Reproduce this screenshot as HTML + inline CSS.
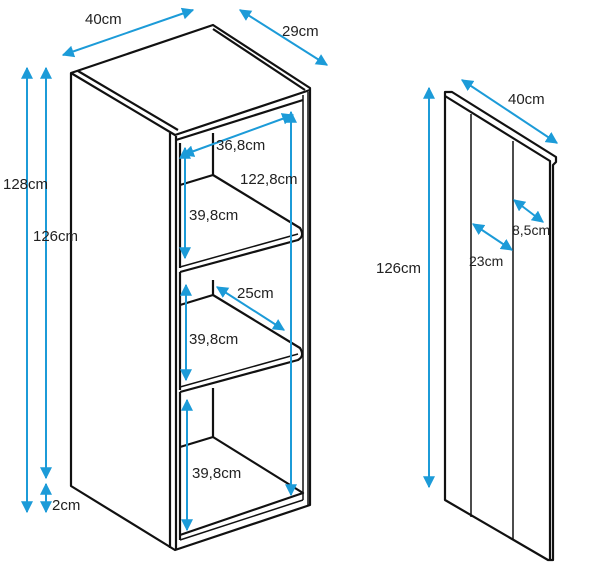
<!DOCTYPE html>
<html><head><meta charset="utf-8"><style>
html,body{margin:0;padding:0;background:#fff;}
svg{display:block;}
text{font-family:"Liberation Sans",sans-serif;font-size:15px;fill:#222;}
</style></head><body>
<svg width="600" height="570" viewBox="0 0 600 570" xmlns="http://www.w3.org/2000/svg">
<defs>
<marker id="a" viewBox="0 0 10 10" refX="9" refY="5" markerWidth="6" markerHeight="6" orient="auto-start-reverse"><path d="M0,0L10,5L0,10z" fill="#1c9bd8"/></marker>
</defs>
<g fill="none" stroke="#111" stroke-width="2.2" stroke-linejoin="round">
<path d="M71,73 L213,25 L310,88 L310,505 L175,550 L71,486 Z"/>
<path d="M71,73 L175,135 L310,90" />
<path d="M78,71 L178,130 M213,29 L305,90"/>
<path d="M170,133 L170,548 M176,136 L176,549"/>
<path d="M303,95 L303,500 M308,92 L308,505" stroke-width="1.5"/>
<path d="M176,140 L303,100"/>
<path d="M180,143 L180,268"/>
<path d="M213,133 L213,175 L180,185"/>
<path d="M213,175 L300,228 Q305,236 298,240 L180,272"/>
<path d="M180,267 L298,234" stroke-width="1.5"/>
<path d="M180,272 L180,390"/>
<path d="M213,280 L213,295 L180,305"/>
<path d="M213,295 L300,348 Q305,356 298,360 L180,392"/>
<path d="M180,387 L298,354" stroke-width="1.5"/>
<path d="M180,392 L180,540"/>
<path d="M213,388 L213,437 L180,447"/>
<path d="M213,437 L303,493 L180,535"/>
<path d="M180,540 L303,500" stroke-width="1.5"/>
<path d="M445,92 L452,92 L556,157 L556,162 L553,165 L553,560 L548,560 L445,500 Z"/>
<path d="M445,96 L550,161 L550,560"/>
<path d="M471,114 L471,517 M513,141 L513,540" stroke-width="1.5"/>
</g>
<g stroke="#1c9bd8" stroke-width="2" fill="none" marker-start="url(#a)" marker-end="url(#a)">
<line x1="63" y1="55" x2="193" y2="10"/>
<line x1="240" y1="10" x2="327" y2="65"/>
<line x1="27" y1="68" x2="27" y2="512"/>
<line x1="46" y1="68" x2="46" y2="478"/>
<line x1="46" y1="484" x2="46" y2="512"/>
<line x1="183" y1="155" x2="293" y2="115"/>
<line x1="291" y1="112" x2="291" y2="495"/>
<line x1="185" y1="148" x2="185" y2="258"/>
<line x1="186" y1="285" x2="186" y2="380"/>
<line x1="187" y1="400" x2="187" y2="530"/>
<line x1="217" y1="287" x2="284" y2="330"/>
<line x1="462" y1="80" x2="557" y2="143"/>
<line x1="429" y1="88" x2="429" y2="487"/>
<line x1="514" y1="200" x2="543" y2="222"/>
<line x1="473" y1="224" x2="512" y2="250"/>
</g>
<text x="85" y="24">40cm</text>
<text x="282" y="36">29cm</text>
<text x="3" y="189">128cm</text>
<text x="33" y="241">126cm</text>
<text x="52" y="510">2cm</text>
<text x="216" y="150">36,8cm</text>
<text x="240" y="184">122,8cm</text>
<text x="189" y="220">39,8cm</text>
<text x="237" y="298">25cm</text>
<text x="189" y="344">39,8cm</text>
<text x="192" y="478">39,8cm</text>
<text x="508" y="104">40cm</text>
<text x="376" y="273">126cm</text>
<text x="512" y="235" style="font-size:14px">8,5cm</text>
<text x="469" y="266" style="font-size:14px">23cm</text>
</svg>
</body></html>
